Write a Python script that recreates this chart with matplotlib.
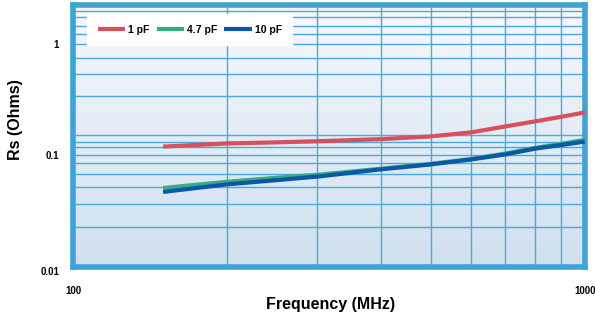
import numpy as np
import matplotlib
matplotlib.use("Agg")
import matplotlib.pyplot as plt

# frequency points (MHz)
freq = [150, 200, 250, 300, 400, 500, 600, 700, 800, 900, 1000]
rs_1pf = [0.120, 0.128, 0.131, 0.134, 0.140, 0.148, 0.161, 0.182, 0.202, 0.222, 0.243]
rs_4p7pf = [0.051, 0.058, 0.063, 0.067, 0.076, 0.084, 0.093, 0.104, 0.117, 0.127, 0.138]
rs_10pf = [0.047, 0.055, 0.060, 0.0645, 0.075, 0.083, 0.092, 0.102, 0.115, 0.124, 0.133]

# grid lines as drawn in the original
y_grid = [1.97, 1.74, 1.46, 1.23, 1.0, 0.75, 0.54, 0.34, 0.151, 0.131, 0.118,
          0.1, 0.085, 0.068, 0.052, 0.037, 0.023]
x_grid = [200, 300, 400, 500, 600, 700, 800, 900]

frame_col = '#3fa3d6'
grid_col = '#4aa9da'
plt.rcParams['font.family'] = ['Liberation Sans', 'DejaVu Sans']

fig = plt.figure(figsize=(5.95, 3.2), dpi=100)
ax = fig.add_axes([0.1227, 0.166, 0.860, 0.818])
ax.set_xscale('log')
ax.set_yscale('log')
ax.set_xlim(100, 1000)
ax.set_ylim(0.01, 2.23)

# background gradient
grad = np.linspace(0, 1, 256).reshape(-1, 1)
cmap = matplotlib.colors.LinearSegmentedColormap.from_list('bg', ['#f7f9fd', '#cfe0ef'])
ax.imshow(grad, extent=[0, 1, 0, 1], transform=ax.transAxes, aspect='auto',
          cmap=cmap, zorder=0)

for v in y_grid:
    ax.axhline(v, color=grid_col, lw=1.0, zorder=1)
for v in x_grid:
    ax.axvline(v, color=grid_col, lw=1.0, zorder=1)

ax.plot(freq, rs_1pf, color='#d9505c', lw=3.0, solid_capstyle='butt', label='1 pF', zorder=3)
ax.plot(freq, rs_4p7pf, color='#3aaa82', lw=3.0, solid_capstyle='butt', label='4.7 pF', zorder=3)
ax.plot(freq, rs_10pf, color='#0a58a6', lw=3.0, solid_capstyle='butt', label='10 pF', zorder=4)

for s in ax.spines.values():
    s.set_color(frame_col)
    s.set_linewidth(4)

ax.set_xticks([100, 1000])
ax.set_xticklabels(['100', '1000'], fontsize=7, fontweight='bold')
ax.set_yticks([0.01, 0.1, 1])
ax.set_yticklabels(['0.01', '0.1', '1'], fontsize=7, fontweight='bold')
ax.minorticks_off()
ax.tick_params(axis='x', length=0, pad=14)
ax.tick_params(axis='y', length=0, pad=10)
for lbl in ax.get_yticklabels():
    if lbl.get_text() == '0.01':
        lbl.set_va('top')

fig.text(331 / 595, 1 - 304 / 320, 'Frequency (MHz)', fontsize=11.5, fontweight='bold',
         ha='center', va='center')
fig.text(16 / 595, 1 - 120 / 320, 'Rs (Ohms)', fontsize=11.5, fontweight='bold',
         ha='center', va='center', rotation=90)

leg = ax.legend(loc='upper left', bbox_to_anchor=(0.018, 0.985), ncol=3, frameon=True,
                fancybox=False, framealpha=1, edgecolor='white', handlelength=2.6,
                handletextpad=0.3, columnspacing=0.7, borderpad=1.0,
                prop={'size': 7.5, 'weight': 'bold'})
leg.set_zorder(5)

fig.savefig('out.png', dpi=100)
